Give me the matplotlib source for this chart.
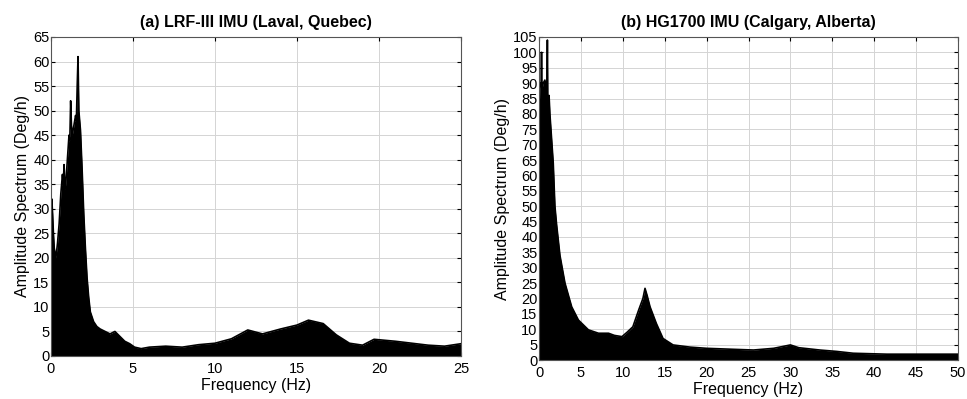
"""
Amplitude spectra of gyro outputs for two IMUs (side-by-side panels).
"""

import matplotlib.pyplot as plt
import numpy as np

plt.rcParams["font.family"] = ["Liberation Sans", "DejaVu Sans"]

# (a) LRF-III IMU: upper envelope of the spectrum
freq_a = [0.0, 0.05, 0.1, 0.15, 0.2, 0.3, 0.4, 0.5, 0.6, 0.7, 0.75, 0.8, 0.85,
          0.9, 1.0, 1.1, 1.15, 1.2, 1.25, 1.3, 1.4, 1.5, 1.55, 1.6, 1.65, 1.7,
          1.8, 1.9, 2.0, 2.1, 2.2, 2.3, 2.4, 2.5, 2.6, 2.8, 3.0, 3.3, 3.6, 3.9,
          4.2, 4.5, 4.8, 5.1, 5.5, 6.0, 7.0, 8.0, 9.0, 10.0, 11.0, 12.0, 12.9,
          14.0, 15.0, 15.7, 16.6, 17.4, 18.2, 19.0, 19.7, 21.0, 22.0, 23.0,
          24.0, 25.0]
amp_a = [24, 32, 29, 25, 22, 20, 23, 27, 33, 37, 35, 39, 34,
         35, 40, 45, 44, 52, 47, 45, 47, 49, 48, 55, 61, 50,
         46, 38, 29, 22, 16, 12, 9, 8, 7, 6, 5.5, 5, 4.5, 5,
         4, 3, 2.5, 1.8, 1.5, 1.8, 2.0, 1.8, 2.3, 2.6, 3.5, 5.3, 4.5,
         5.5, 6.3, 7.3, 6.6, 4.3, 2.6, 2.2, 3.4, 3.0, 2.6, 2.2,
         2.0, 2.5]

# (b) HG1700 IMU
freq_b = [0.0, 0.1, 0.2, 0.25, 0.3, 0.35, 0.5, 0.7, 0.9, 0.95, 1.0, 1.05, 1.2,
          1.3, 1.5, 1.7, 1.9, 2.1, 2.5, 3.1, 3.9, 4.7, 5.9, 7.1, 8.3, 9.0, 9.9,
          10.5, 11.2, 11.9, 12.4, 12.65, 12.9, 13.25, 14.0, 14.8, 16.0, 18.0,
          20.0, 23.0, 25.6, 28.0, 30.0, 31.0, 33.5, 35.5, 37.5, 41.5, 45.0,
          50.0]
amp_b = [80, 88, 90, 90, 100, 88, 90, 91, 88, 88, 104, 84, 86,
         80, 72, 64, 50, 44, 34, 25, 17.3, 13, 9.8, 8.7, 8.7, 8.0, 7.6,
         9.0, 10.8, 16.3, 20, 23.3, 21, 17.3, 11.9, 7, 4.9, 4.2,
         3.8, 3.5, 3.25, 3.8, 4.9, 4.0, 3.25, 2.8, 2.2, 1.9, 1.9,
         1.9]

GRID = "#d4d4d4"


def draw_panel(ax, freq, amp, xmax, ymax, title):
    ax.fill_between(freq, 0, amp, color="black", linewidth=0)
    ax.plot(freq, amp, color="black", linewidth=1.2)
    ax.set_xlim(0, xmax)
    ax.set_ylim(0, ymax)
    ax.set_xticks(np.arange(0, xmax + 1, 5))
    ax.set_yticks(np.arange(0, ymax + 1, 5))
    ax.grid(True, color=GRID, linewidth=0.7)
    ax.set_axisbelow(True)
    ax.tick_params(direction="in", length=3, top=True, right=True,
                   labelsize=10.5)
    ax.tick_params(axis="y", pad=1)
    ax.tick_params(axis="x", pad=4)
    for s in ax.spines.values():
        s.set_color("#555555")
        s.set_linewidth(0.8)
    ax.set_xlabel("Frequency (Hz)", fontsize=11.5, labelpad=2)
    ax.set_ylabel("Amplitude Spectrum (Deg/h)", fontsize=11.5, labelpad=2)
    ax.set_title(title, fontsize=11.5, fontweight="bold", pad=7)


fig = plt.figure(figsize=(9.67, 3.99), dpi=100)
ax1 = fig.add_axes([0.0527, 0.1078, 0.424, 0.7995])
ax2 = fig.add_axes([0.5574, 0.0977, 0.4333, 0.8096])

draw_panel(ax1, freq_a, amp_a, 25, 65, "(a) LRF-III IMU (Laval, Quebec)")
draw_panel(ax2, freq_b, amp_b, 50, 105, "(b) HG1700 IMU (Calgary, Alberta)")

fig.savefig("out.png", dpi=100)
